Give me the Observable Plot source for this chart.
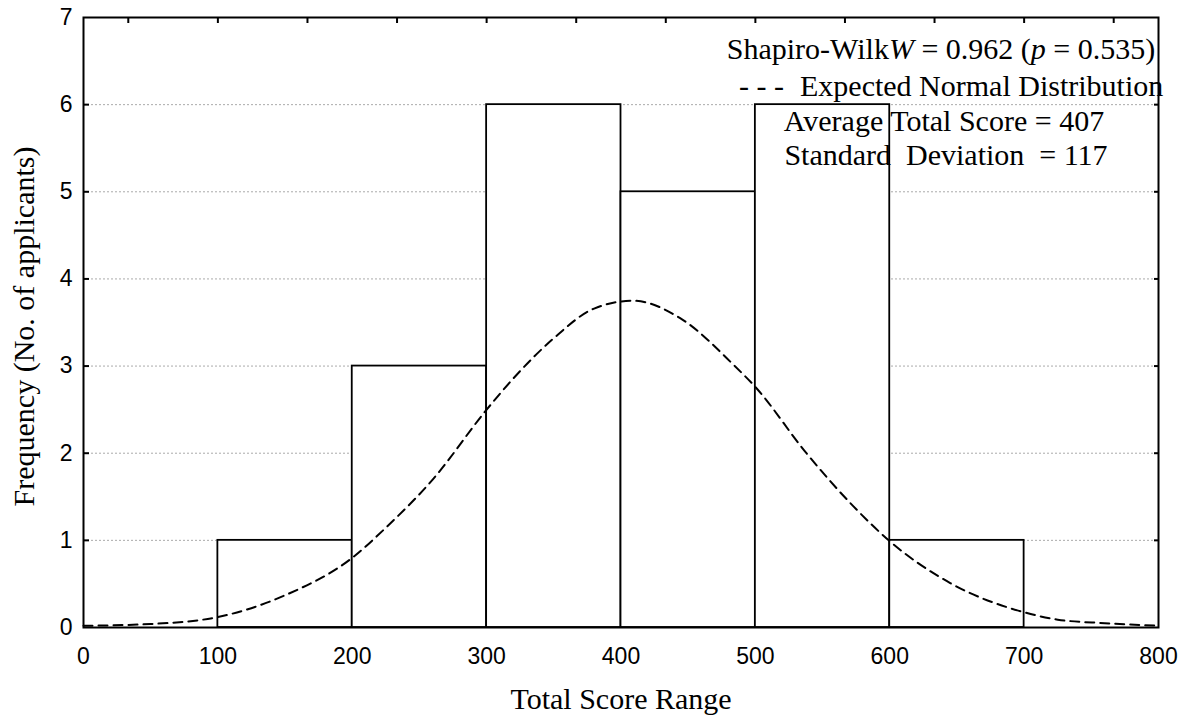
<!DOCTYPE html>
<html>
<head>
<meta charset="utf-8">
<script src="https://cdn.jsdelivr.net/npm/d3@7"></script>
<script src="https://cdn.jsdelivr.net/npm/@observablehq/plot@0.6"></script>
<style>
  html, body { margin: 0; padding: 0; background: #fff; }
</style>
</head>
<body>
<div id="chart"></div>
<script>
// ---- data ----
const binStart = [100, 200, 300, 400, 500, 600];
const binEnd   = [200, 300, 400, 500, 600, 700];
const frequency = [1, 3, 6, 5, 6, 1];

// expected normal curve
const curveX = [0, 50, 100, 150, 200, 226, 260, 300, 320, 350, 380, 409, 444, 484, 500, 538, 573, 600, 645, 700, 725, 760, 800];
const curveY = [0.02, 0.04, 0.12, 0.37, 0.80, 1.16, 1.70, 2.50, 2.86, 3.32, 3.66, 3.75, 3.55, 3.01, 2.76, 2.00, 1.39, 0.99, 0.51, 0.175, 0.09, 0.05, 0.02];

const xTicks = [0, 100, 200, 300, 400, 500, 600, 700, 800];
const yTicks = [0, 1, 2, 3, 4, 5, 6, 7];
const gridTicks = [1, 2, 3, 4, 5, 6];
const topTicks = [33.33, 100, 166.67, 233.33, 300, 366.67, 433.33, 500, 566.67, 633.33, 700, 766.67];

const xTitle = "Total Score Range";
const yTitle = "Frequency (No. of applicants)";
const note1 = "Shapiro-WilkW = 0.962 (p = 0.535)";
const note2dash = "- - -";
const note2 = "Expected Normal Distribution";
const note3 = "Average Total Score = 407";
const note4 = "Standard\u00a0 Deviation\u00a0 = 117";

const bars = binStart.map((s, i) => ({x1: s, x2: binEnd[i], y: frequency[i]}));
const curve = curveX.map((x, i) => ({x, y: curveY[i]}));

const serif = "'Liberation Serif', 'Times New Roman', serif";
const sans = "'Liberation Sans', Arial, sans-serif";
const fmt = d => String(d);

const chart = Plot.plot({
  width: 1193,
  height: 715,
  marginLeft: 83,
  marginRight: 35,
  marginTop: 17,
  marginBottom: 88,
  style: {fontFamily: sans, fontSize: "23px", background: "#fff", color: "#000"},
  x: {domain: [0, 800], label: null},
  y: {domain: [0, 7], label: null},
  marks: [
    Plot.gridY(gridTicks, {stroke: "#aaa", strokeOpacity: 1, strokeWidth: 1, strokeDasharray: "2,2"}),
    Plot.rectY(bars, {x1: "x1", x2: "x2", y: "y", fill: "#fff", stroke: "#000", strokeWidth: 1.8}),
    Plot.line(curve, {x: "x", y: "y", stroke: "#000", strokeWidth: 2, strokeDasharray: "9,6", curve: "monotone-x"}),
    Plot.frame({stroke: "#000", strokeWidth: 2}),
    Plot.axisX(xTicks, {anchor: "bottom", tickSize: 0, tickPadding: 20, tickFormat: fmt, fontSize: 23, fontFamily: sans}),
    Plot.axisY(yTicks, {anchor: "left", tickSize: 0, tickPadding: 11, tickFormat: fmt, fontSize: 23, fontFamily: sans}),
    Plot.axisY(gridTicks, {anchor: "left", tickSize: -6, tickFormat: () => "", strokeWidth: 2}),
    Plot.axisY(gridTicks, {anchor: "right", tickSize: -5, tickFormat: () => "", strokeWidth: 2}),
    Plot.axisX(topTicks, {anchor: "top", tickSize: -5, tickFormat: () => "", strokeWidth: 2}),
    Plot.text([xTitle], {frameAnchor: "bottom", lineAnchor: "bottom", textAnchor: "middle", dy: 81, text: d => d, fontSize: 30, fontFamily: serif, fill: "#000"}),
    Plot.text([yTitle], {frameAnchor: "left", lineAnchor: "middle", textAnchor: "middle", rotate: -90, dx: -59, dy: 4, text: d => d, fontSize: 30, fontFamily: serif, fill: "#000"}),
    Plot.text([note1], {frameAnchor: "top", lineAnchor: "bottom", textAnchor: "middle", dx: 320, dy: 41, text: d => d, fontSize: 30, fontFamily: serif, fill: "#000"}),
    Plot.text([note2dash], {frameAnchor: "top", lineAnchor: "bottom", textAnchor: "start", dx: 118, dy: 78, text: d => d, fontSize: 30, fontFamily: serif, fill: "#000"}),
    Plot.text([note2], {frameAnchor: "top", lineAnchor: "bottom", textAnchor: "start", dx: 179, dy: 78, text: d => d, fontSize: 30, fontFamily: serif, fill: "#000"}),
    Plot.text([note3], {frameAnchor: "top", lineAnchor: "bottom", textAnchor: "middle", dx: 323, dy: 113, text: d => d, fontSize: 30, fontFamily: serif, fill: "#000"}),
    Plot.text([note4], {frameAnchor: "top", lineAnchor: "bottom", textAnchor: "middle", dx: 325, dy: 147, text: d => d, fontSize: 30, fontFamily: serif, fill: "#000"})
  ]
});

// italicise the statistic symbols in the Shapiro-Wilk note
d3.select(chart).selectAll("text").filter(function () { return this.textContent === note1; })
  .each(function () {
    const t = d3.select(this);
    t.text(null);
    t.append("tspan").text("Shapiro-Wilk");
    t.append("tspan").attr("font-style", "italic").text("W");
    t.append("tspan").text(" = 0.962 (");
    t.append("tspan").attr("font-style", "italic").text("p");
    t.append("tspan").text(" = 0.535)");
  });

document.getElementById("chart").appendChild(chart);
</script>
</body>
</html>
